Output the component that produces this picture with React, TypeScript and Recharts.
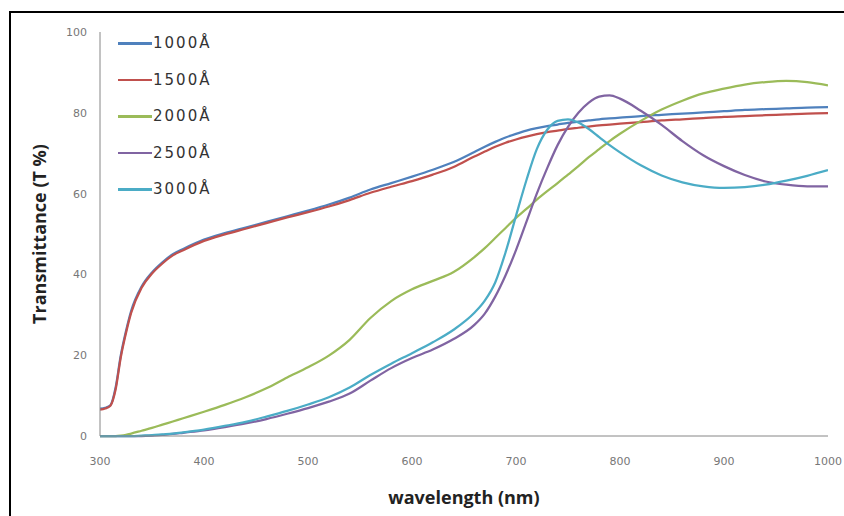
import { LineChart, Line, XAxis, YAxis, Legend } from "recharts";

const wavelengths = [
  300, 305, 310, 315, 320, 325, 330, 340, 350, 360, 370, 380, 400, 420, 440, 460, 480, 500, 520, 540,
  560, 580, 600, 620, 640, 660, 670, 680, 690, 700, 710, 720, 730, 740, 750, 760, 770, 780, 790, 800,
  820, 840, 860, 880, 900, 920, 940, 960, 980, 1000,
];

const t1000 = [
  6.8, 7.0, 7.6, 12, 20, 26, 31, 37, 40.5, 43, 45, 46.3, 48.6, 50.2, 51.6, 53, 54.4, 55.8, 57.3, 59,
  61, 62.6, 64.2, 65.9, 67.8, 70.3, 71.6, 72.8, 73.9, 74.8, 75.6, 76.2, 76.7, 77.1, 77.5, 77.8, 78.1, 78.4, 78.6, 78.8,
  79.2, 79.5, 79.8, 80.1, 80.4, 80.7, 80.9, 81.1, 81.3, 81.4,
];

const t1500 = [
  6.5, 6.8, 7.5, 11.5, 19.5, 25.5, 30.5, 36.7, 40.2, 42.7, 44.7, 46, 48.3, 49.9, 51.3, 52.7, 54.1, 55.4, 56.8, 58.4,
  60.2, 61.7, 63.1, 64.7, 66.6, 69.2, 70.4, 71.6, 72.6, 73.4, 74.1, 74.7, 75.2, 75.6, 76, 76.3, 76.6, 76.9, 77.1, 77.3,
  77.7, 78.1, 78.4, 78.7, 79, 79.2, 79.4, 79.6, 79.8, 79.9,
];

const t2000 = [
  0, 0, 0, 0, 0.1, 0.3, 0.6, 1.3, 2, 2.8, 3.6, 4.4, 6, 7.7, 9.6, 11.8, 14.5, 17, 19.9, 23.8,
  29.2, 33.4, 36.3, 38.4, 40.6, 44.3, 46.5, 49, 51.5, 54, 56.2, 58.5, 60.6, 62.6, 64.7, 66.8, 69, 71, 73, 74.8,
  78, 80.8, 83, 84.8, 86, 87, 87.6, 87.9, 87.6, 86.8,
];

const t2500 = [
  0, 0, 0, 0, 0, 0, 0, 0, 0.1, 0.3, 0.5, 0.8, 1.4, 2.2, 3.1, 4.2, 5.5, 6.9, 8.5, 10.5,
  13.7, 16.8, 19.3, 21.4, 24, 27.5, 30.3, 34.5, 39.8, 46, 53, 60, 66.3, 72, 76.5, 80, 82.5, 84, 84.3, 83.5,
  80.5, 77, 73, 69.5, 66.8, 64.6, 63, 62.2, 61.8, 61.8,
];

const t3000 = [
  0, 0, 0, 0, 0, 0, 0, 0.1, 0.2, 0.4, 0.6, 0.9, 1.6, 2.5, 3.5, 4.8, 6.2, 7.8, 9.6, 12,
  15.1, 17.9, 20.5, 23.2, 26.3, 30.5, 33.5, 38, 45.5, 54.5, 63.3, 71, 75.8, 78, 78.4, 77.6, 76, 74, 72, 70.2,
  67, 64.5, 62.8, 61.8, 61.4, 61.6, 62.2, 63.2, 64.4, 65.8,
];

const xTicks = [300, 400, 500, 600, 700, 800, 900, 1000];
const yTicks = [0, 20, 40, 60, 80, 100];

const series = [
  { key: "s1000", name: "1000Å", color: "#4F81BD", values: t1000 },
  { key: "s1500", name: "1500Å", color: "#C0504D", values: t1500 },
  { key: "s2000", name: "2000Å", color: "#9BBB59", values: t2000 },
  { key: "s2500", name: "2500Å", color: "#8064A2", values: t2500 },
  { key: "s3000", name: "3000Å", color: "#4BACC6", values: t3000 },
];

const rows = wavelengths.map((wl, i) => {
  const row: Record<string, number> = { wl };
  series.forEach((s) => {
    row[s.key] = s.values[i];
  });
  return row;
});

const tickStyle = { fill: "#777", fontSize: 11, fontFamily: "DejaVu Sans" };
const titleStyle = { fill: "#222", fontSize: 18, fontWeight: 700, fontFamily: "Open Sans", textAnchor: "middle" as const };

function LegendBox() {
  return (
    <div style={{ fontFamily: "DejaVu Sans", fontSize: 15, color: "#333" }}>
      {series.map((s) => (
        <div key={s.key} style={{ display: "flex", alignItems: "center", height: 36.5 }}>
          <span style={{ width: 34, height: 2.5, background: s.color, display: "inline-block" }} />
          <span style={{ marginLeft: 1, letterSpacing: 2 }}>{s.name}</span>
        </div>
      ))}
    </div>
  );
}

export default function App() {
  return (
    <div style={{ position: "absolute", left: 0, top: 0, width: 844, height: 516, background: "#fff", overflow: "hidden" }}>
      {/* frame */}
      <div
        style={{
          position: "absolute",
          left: 9,
          top: 11,
          width: 900,
          height: 600,
          borderLeft: "2.5px solid #000",
          borderTop: "2.5px solid #000",
        }}
      />
      <div style={{ position: "absolute", left: 0, top: 0 }}>
        <LineChart width={844} height={516} data={rows} margin={{ top: 32, right: 16, bottom: 0, left: 0 }}>
          <XAxis
            dataKey="wl"
            type="number"
            domain={[300, 1000]}
            ticks={xTicks}
            allowDataOverflow
            height={80}
            tickLine={false}
            tickSize={0}
            tickMargin={21}
            axisLine={{ stroke: "#868686" }}
            tick={tickStyle}
            label={{ value: "wavelength (nm)", position: "insideBottom", offset: 12, style: titleStyle }}
          />
          <YAxis
            type="number"
            domain={[0, 100]}
            ticks={yTicks}
            width={100}
            tickLine={false}
            tickSize={0}
            tickMargin={13}
            axisLine={{ stroke: "#868686" }}
            tick={tickStyle}
            label={{ value: "Transmittance (T %)", angle: -90, position: "insideLeft", offset: 40, style: titleStyle }}
          />
          <Legend
            layout="vertical"
            align="center"
            verticalAlign="middle"
            content={() => <LegendBox />}
            wrapperStyle={{ left: 118, top: 25, width: 120 }}
          />
          {series.map((s) => (
            <Line
              key={s.key}
              dataKey={s.key}
              name={s.name}
              type="monotone"
              stroke={s.color}
              strokeWidth={2.25}
              dot={false}
              isAnimationActive={false}
            />
          ))}
        </LineChart>
      </div>
    </div>
  );
}
